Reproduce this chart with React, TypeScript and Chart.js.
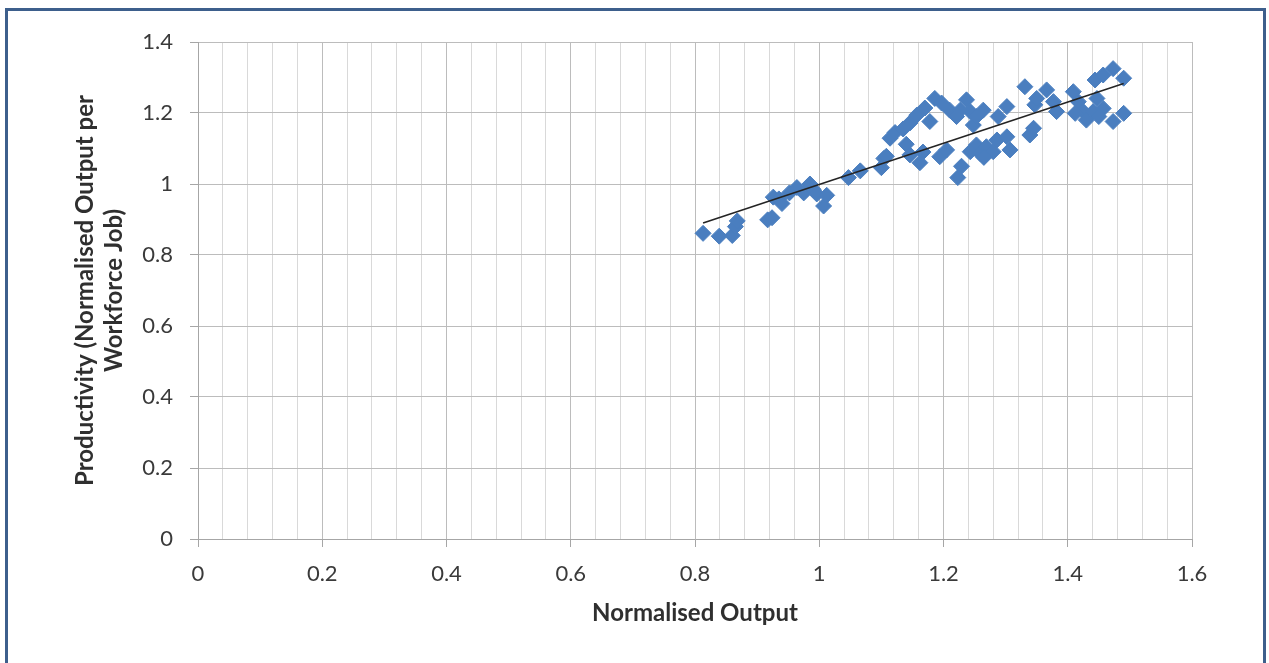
import React, { useEffect, useRef } from "react";
import { Chart, registerables } from "chart.js";

Chart.register(...registerables);

// Normalised output (x) and productivity (y) observations
const outputValues: number[] = [
  0.813, 0.839, 0.860, 0.865, 0.868, 0.917, 0.924, 0.926, 0.935, 0.940,
  0.952, 0.964, 0.975, 0.985, 0.990, 0.996, 1.007, 1.012, 1.047, 1.066,
  1.100, 1.104, 1.108, 1.114, 1.122, 1.135, 1.140, 1.146, 1.157, 1.170,
  1.186, 1.197, 1.178, 1.146, 1.162, 1.167, 1.194, 1.205, 1.210, 1.221,
  1.237, 1.243, 1.248, 1.229, 1.223, 1.253, 1.243, 1.227, 1.253, 1.264,
  1.288, 1.302, 1.259, 1.269, 1.286, 1.302, 1.307, 1.280, 1.265, 1.331,
  1.347, 1.350, 1.366, 1.377, 1.382, 1.339, 1.345, 1.409, 1.417, 1.425,
  1.430, 1.412, 1.444, 1.457, 1.473, 1.490, 1.447, 1.441, 1.457, 1.473,
  1.490, 1.450,
];

const productivityValues: number[] = [
  0.861, 0.853, 0.855, 0.880, 0.896, 0.899, 0.905, 0.963, 0.958, 0.945,
  0.975, 0.990, 0.975, 1.000, 0.985, 0.972, 0.938, 0.968, 1.018, 1.037,
  1.046, 1.072, 1.078, 1.129, 1.145, 1.155, 1.112, 1.172, 1.194, 1.214,
  1.241, 1.228, 1.176, 1.082, 1.060, 1.090, 1.077, 1.096, 1.208, 1.190,
  1.237, 1.204, 1.166, 1.050, 1.018, 1.110, 1.091, 1.208, 1.190, 1.208,
  1.190, 1.218, 1.086, 1.105, 1.124, 1.133, 1.096, 1.091, 1.075, 1.274,
  1.223, 1.241, 1.265, 1.232, 1.204, 1.138, 1.157, 1.260, 1.232, 1.204,
  1.180, 1.199, 1.293, 1.307, 1.325, 1.298, 1.241, 1.204, 1.213, 1.176,
  1.199, 1.190,
];

const xTickValues: number[] = [0, 0.2, 0.4, 0.6, 0.8, 1, 1.2, 1.4, 1.6];
const yTickValues: number[] = [0, 0.2, 0.4, 0.6, 0.8, 1, 1.2, 1.4];

const xTitle = "Normalised Output";
const yTitle = ["Productivity (Normalised Output per", "Workforce Job)"];

const FONT = "Lato, 'Liberation Sans', sans-serif";
const POINT_BLUE = "#4a7ebf";

const isMajorX = (v: number) =>
  xTickValues.some((t) => Math.abs(t - v) < 1e-6);

const fmt = (v: number) => String(Math.round(v * 10) / 10);

// Least-squares linear trend through the observations
function linearTrend(xs: number[], ys: number[]) {
  const n = xs.length;
  const mx = xs.reduce((a, b) => a + b, 0) / n;
  const my = ys.reduce((a, b) => a + b, 0) / n;
  let sxy = 0;
  let sxx = 0;
  for (let i = 0; i < n; i++) {
    sxy += (xs[i] - mx) * (ys[i] - my);
    sxx += (xs[i] - mx) * (xs[i] - mx);
  }
  const slope = sxy / sxx;
  const intercept = my - slope * mx;
  const x0 = Math.min(...xs);
  const x1 = Math.max(...xs);
  return [
    { x: x0, y: intercept + slope * x0 },
    { x: x1, y: intercept + slope * x1 },
  ];
}

export default function App() {
  const canvasRef = useRef<HTMLCanvasElement | null>(null);

  useEffect(() => {
    if (!canvasRef.current) return;
    const points = outputValues.map((x, i) => ({ x, y: productivityValues[i] }));
    const trend = linearTrend(outputValues, productivityValues);

    const chart = new Chart(canvasRef.current, {
      type: "scatter",
      data: {
        datasets: [
          {
            label: "Linear trend",
            data: trend,
            showLine: true,
            borderColor: "#242424",
            borderWidth: 1.6,
            pointRadius: 0,
            order: 0,
          },
          {
            label: "Productivity",
            data: points,
            pointStyle: "rectRot",
            pointRadius: 8,
            pointBorderWidth: 1,
            backgroundColor: POINT_BLUE,
            borderColor: POINT_BLUE,
            order: 1,
          },
        ],
      },
      options: {
        responsive: false,
        animation: false,
        events: [],
        layout: { padding: { left: 71, top: 42, right: 77, bottom: 20 } },
        plugins: {
          legend: { display: false },
          tooltip: { enabled: false },
        },
        scales: {
          x: {
            type: "linear",
            min: 0,
            max: 1.6,
            afterFit: (scale: any) => {
              scale.height = 104;
            },
            ticks: {
              stepSize: 0.04,
              autoSkip: false,
              maxRotation: 0,
              padding: 14,
              color: "#3a3a3a",
              font: { family: FONT, size: 22 },
              callback: (v: any) => (isMajorX(Number(v)) ? fmt(Number(v)) : ""),
            },
            grid: {
              color: (ctx: any) =>
                ctx.tick && isMajorX(ctx.tick.value) ? "#bcbcbc" : "#d9d9d9",
              tickColor: (ctx: any) =>
                ctx.tick && isMajorX(ctx.tick.value) ? "#a6a6a6" : "rgba(0,0,0,0)",
              tickLength: 8,
              lineWidth: 1,
            },
            border: { color: "#a6a6a6", width: 1 },
            title: {
              display: true,
              text: xTitle,
              color: "#2f2f2f",
              font: { family: FONT, size: 24, weight: "bold", lineHeight: 1.2 },
              padding: { top: 0, bottom: 15 },
            },
          },
          y: {
            type: "linear",
            min: 0,
            max: 1.4,
            afterFit: (scale: any) => {
              scale.width = 127;
            },
            afterBuildTicks: (scale: any) => {
              scale.ticks = yTickValues.map((value) => ({ value }));
            },
            ticks: {
              padding: 17,
              color: "#3a3a3a",
              font: { family: FONT, size: 22 },
              callback: (v: any) => fmt(Number(v)),
            },
            grid: {
              color: "#bcbcbc",
              tickColor: "#a6a6a6",
              tickLength: 8,
              lineWidth: 1,
            },
            border: { color: "#a6a6a6", width: 1 },
            title: {
              display: true,
              text: yTitle,
              color: "#2f2f2f",
              font: { family: FONT, size: 24, weight: "bold", lineHeight: 1.2 },
              padding: { top: 0, bottom: 0 },
            },
          },
        },
      },
    });

    return () => chart.destroy();
  }, []);

  return (
    <div
      style={{
        position: "fixed",
        left: 0,
        top: 0,
        width: 1269,
        height: 663,
        background: "#ffffff",
        overflow: "hidden",
      }}
    >
      <canvas ref={canvasRef} width={1269} height={663} style={{ display: "block" }} />
      <div
        style={{
          position: "absolute",
          left: 5,
          top: 8,
          width: 1261,
          height: 700,
          boxSizing: "border-box",
          border: "3px solid #3d5f8c",
          pointerEvents: "none",
        }}
      />
    </div>
  );
}
